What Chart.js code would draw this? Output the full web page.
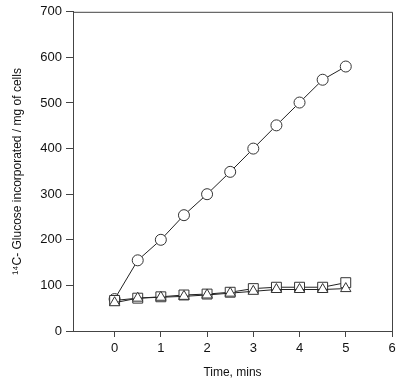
<!DOCTYPE html>
<html>
<head>
<meta charset="utf-8">
<script src="https://cdn.jsdelivr.net/npm/chart.js@4"></script>
<style>
  html, body { margin: 0; padding: 0; background: #fff; }
  #wrap { width: 400px; height: 384px; position: relative; }
</style>
</head>
<body>
<div id="wrap"><canvas id="chart"></canvas></div>
<script>
// time points (mins)
const times = [0, 0.5, 1, 1.5, 2, 2.5, 3, 3.5, 4, 4.5, 5];
// glucose incorporated
const circleVals = [70, 155, 200, 254, 300, 349, 400, 451, 501, 551, 580];
const squareVals = [67, 72, 75, 79, 81, 85, 93, 96, 96, 96, 106];
const triangleVals = [62, 72, 74, 76, 79, 83, 87, 91, 91, 91, 93];
const xTickVals = [0, 1, 2, 3, 4, 5, 6];
const yTickVals = [0, 100, 200, 300, 400, 500, 600, 700];

const toPoints = vals => times.map((t, i) => ({ x: t, y: vals[i] }));

function series(label, vals, style, radius) {
    return {
        label: label,
        data: toPoints(vals),
        borderColor: '#222',
        borderWidth: 1,
        pointStyle: style,
        pointRadius: radius,
        pointBorderColor: '#333',
        pointBackgroundColor: '#fff',
        pointBorderWidth: 1,
        showLine: true,
        tension: 0
    };
}

// top and right sides of the frame
const framePlugin = {
    id: 'frame',
    afterDraw(chart) {
        const { ctx, chartArea } = chart;
        ctx.save();
        ctx.strokeStyle = '#444';
        ctx.lineWidth = 1;
        ctx.beginPath();
        ctx.moveTo(chartArea.left, chartArea.top + 0.5);
        ctx.lineTo(chartArea.right + 0.5, chartArea.top + 0.5);
        ctx.lineTo(chartArea.right + 0.5, chartArea.bottom);
        ctx.stroke();
        ctx.restore();
    }
};

const tickFont = { family: 'Liberation Sans, Arial, sans-serif', size: 13 };
const titleFont = { family: 'Liberation Sans, Arial, sans-serif', size: 12 };

new Chart(document.getElementById('chart'), {
    type: 'scatter',
    data: {
        datasets: [
            series('triangle', triangleVals, 'triangle', 6),
            series('square', squareVals, 'rect', 7),
            series('circle', circleVals, 'circle', 5.5)
        ]
    },
    options: {
        responsive: true,
        maintainAspectRatio: false,
        animation: false,
        layout: { padding: { top: 11, right: 8, left: 0, bottom: 0 } },
        plugins: { legend: { display: false }, tooltip: { enabled: false } },
        scales: {
            x: {
                type: 'linear',
                min: -0.9,
                max: 6,
                afterBuildTicks: s => { s.ticks = xTickVals.map(v => ({ value: v })); },
                afterFit: s => { s.height = 53; },
                border: { display: true, color: '#444', width: 1 },
                grid: { display: true, drawOnChartArea: false, drawTicks: true, tickLength: 6, color: '#444' },
                ticks: { color: '#111', font: tickFont, padding: 4, maxRotation: 0 },
                title: { display: true, text: 'Time, mins', color: '#111', font: titleFont, padding: { top: 5 } }
            },
            y: {
                type: 'linear',
                min: 0,
                max: 700,
                afterBuildTicks: s => { s.ticks = yTickVals.map(v => ({ value: v })); },
                afterFit: s => { s.width = 73; },
                border: { display: true, color: '#444', width: 1 },
                grid: { display: true, drawOnChartArea: false, drawTicks: true, tickLength: 7, color: '#444' },
                ticks: { color: '#111', font: tickFont, padding: 4 },
                title: { display: true, text: '¹⁴C- Glucose incorporated / mg of cells', color: '#111', font: titleFont, padding: { top: 10, bottom: 0 } }
            }
        }
    },
    plugins: [framePlugin]
});
</script>
</body>
</html>
